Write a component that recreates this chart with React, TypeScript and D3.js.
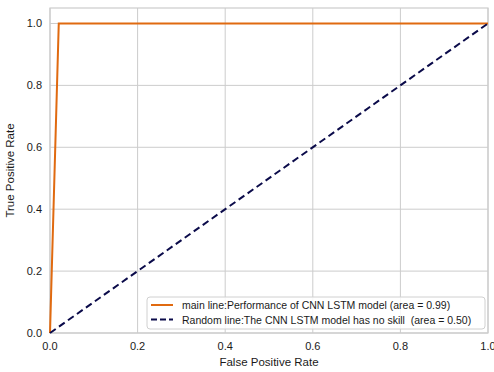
import React, { useRef, useEffect } from 'react';
import * as d3 from 'd3';

const mainFpr = [0, 0.02, 1];
const mainTpr = [0, 1, 1];
const randFpr = [0, 1];
const randTpr = [0, 1];
const ticks = [0, 0.2, 0.4, 0.6, 0.8, 1.0];
const legendLabels = [
  'main line:Performance of CNN LSTM model (area = 0.99)',
  'Random line:The CNN LSTM model has no skill  (area = 0.50)',
];

const width = 494;
const height = 372;

const App: React.FC = () => {
  const svgRef = useRef<SVGSVGElement>(null);

  useEffect(() => {
    if (!svgRef.current) return;
    const svg = d3.select(svgRef.current);
    svg.selectAll('*').remove();

    const margin = { top: 8, right: 6, bottom: 39, left: 50 };
    const w = width - margin.left - margin.right;
    const h = height - margin.top - margin.bottom;
    const font = 'Liberation Sans, Arial, sans-serif';

    const g = svg.append('g').attr('transform', `translate(${margin.left},${margin.top})`);

    const x = d3.scaleLinear().domain([0, 1]).range([0, w]);
    const y = d3.scaleLinear().domain([0, 1.05]).range([h, 0]);

    // grid
    ticks.forEach(t => {
      g.append('line').attr('x1', x(t)).attr('x2', x(t)).attr('y1', 0).attr('y2', h)
        .attr('stroke', '#cccccc').attr('stroke-width', 1);
      g.append('line').attr('x1', 0).attr('x2', w).attr('y1', y(t)).attr('y2', y(t))
        .attr('stroke', '#cccccc').attr('stroke-width', 1);
    });

    // spines
    g.append('rect').attr('x', 0).attr('y', 0).attr('width', w).attr('height', h)
      .attr('fill', 'none').attr('stroke', '#cccccc').attr('stroke-width', 1.2);

    // tick labels
    ticks.forEach(t => {
      g.append('text').attr('x', x(t)).attr('y', h + 17).attr('text-anchor', 'middle')
        .attr('font-family', font).attr('font-size', '11px').attr('fill', '#1a1a1a')
        .text(t.toFixed(1));
      g.append('text').attr('x', -8).attr('y', y(t) + 4).attr('text-anchor', 'end')
        .attr('font-family', font).attr('font-size', '11px').attr('fill', '#1a1a1a')
        .text(t.toFixed(1));
    });

    // ROC curve
    const mainPts = mainFpr.map((f, i) => [x(f), y(mainTpr[i])] as [number, number]);
    g.append('path').attr('d', d3.line()(mainPts))
      .attr('fill', 'none').attr('stroke', '#e06a10').attr('stroke-width', 2);

    // no-skill line
    const randPts = randFpr.map((f, i) => [x(f), y(randTpr[i])] as [number, number]);
    g.append('path').attr('d', d3.line()(randPts))
      .attr('fill', 'none').attr('stroke', '#0b0b4a').attr('stroke-width', 2)
      .attr('stroke-dasharray', '7,4');

    // axis labels
    g.append('text').attr('x', w / 2).attr('y', h + 33).attr('text-anchor', 'middle')
      .attr('font-family', font).attr('font-size', '11.5px').attr('fill', '#1a1a1a')
      .text('False Positive Rate');
    g.append('text').attr('transform', 'rotate(-90)').attr('x', -h / 2).attr('y', -36)
      .attr('text-anchor', 'middle')
      .attr('font-family', font).attr('font-size', '11.5px').attr('fill', '#1a1a1a')
      .text('True Positive Rate');

    // legend
    const lg = g.append('g').attr('transform', `translate(${w - 341},${h - 36})`);
    lg.append('rect').attr('x', 0).attr('y', 0).attr('width', 338).attr('height', 32)
      .attr('rx', 3).attr('fill', 'white').attr('fill-opacity', 0.85)
      .attr('stroke', '#d0d0d0');
    const colors = ['#e06a10', '#0b0b4a'];
    legendLabels.forEach((lab, i) => {
      const ly = 8 + i * 14.5;
      lg.append('line').attr('x1', 4).attr('x2', 26).attr('y1', ly).attr('y2', ly)
        .attr('stroke', colors[i]).attr('stroke-width', 2)
        .attr('stroke-dasharray', i === 1 ? '6,3' : null);
      lg.append('text').attr('x', 35).attr('y', ly + 4)
        .attr('font-family', font).attr('font-size', '10.5px').attr('fill', '#1a1a1a')
        .style('white-space', 'pre')
        .text(lab);
    });
  }, []);

  return <svg ref={svgRef} width={width} height={height} style={{ position: 'absolute', left: 0, top: 0, background: 'white' }} />;
};

export default App;
